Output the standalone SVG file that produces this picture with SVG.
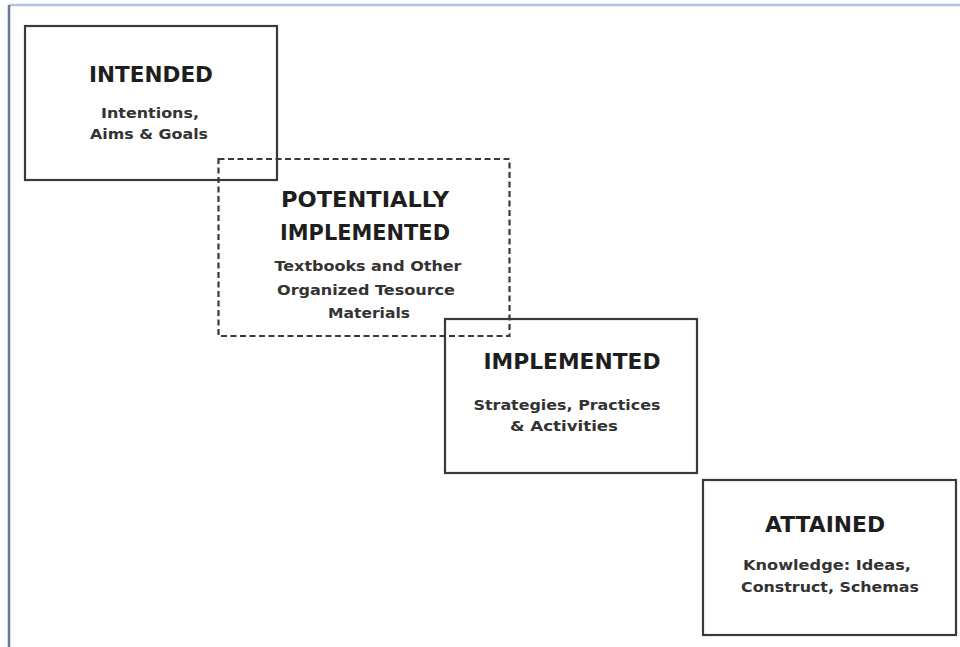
<svg xmlns="http://www.w3.org/2000/svg" width="960" height="647" viewBox="0 0 960 647">
<style>
.box{fill:none;stroke:#3a3a3a;stroke-width:2.2}
.dash{fill:none;stroke:#3a3a3a;stroke-width:2.2;stroke-dasharray:6 3.5}
.title{font-family:"DejaVu Sans",sans-serif;font-weight:bold;font-size:21.5px;fill:#1e1e1e;text-anchor:middle}
.sub{font-family:"DejaVu Sans",sans-serif;font-weight:bold;font-size:14.5px;fill:#333;text-anchor:middle}
</style>
<rect x="0" y="0" width="960" height="647" fill="#fff"/>
<line x1="9" y1="5" x2="960" y2="5" stroke="#b4c2da" stroke-width="2.5"/>
<line x1="9" y1="5" x2="9" y2="647" stroke="#6a7898" stroke-width="2.5"/>
<g id="intended">
<rect class="box" x="25" y="26" width="252" height="154"/>
<text class="title" x="151" y="82" textLength="124" lengthAdjust="spacingAndGlyphs">INTENDED</text>
<text class="sub" x="150" y="118" textLength="98" lengthAdjust="spacingAndGlyphs">Intentions,</text>
<text class="sub" x="149" y="139" textLength="118" lengthAdjust="spacingAndGlyphs">Aims &amp; Goals</text>
</g>
<g id="potentially">
<rect class="dash" x="218.5" y="159" width="291" height="177"/>
<text class="title" x="365" y="207" textLength="168" lengthAdjust="spacingAndGlyphs">POTENTIALLY</text>
<text class="title" x="365" y="240" textLength="170" lengthAdjust="spacingAndGlyphs">IMPLEMENTED</text>
<text class="sub" x="368" y="271" textLength="187" lengthAdjust="spacingAndGlyphs">Textbooks and Other</text>
<text class="sub" x="366" y="295" textLength="178" lengthAdjust="spacingAndGlyphs">Organized Tesource</text>
<text class="sub" x="369" y="318" textLength="82" lengthAdjust="spacingAndGlyphs">Materials</text>
</g>
<g id="implemented">
<rect class="box" x="445" y="319" width="252" height="154"/>
<text class="title" x="572" y="369" textLength="177" lengthAdjust="spacingAndGlyphs">IMPLEMENTED</text>
<text class="sub" x="567" y="410" textLength="187" lengthAdjust="spacingAndGlyphs">Strategies, Practices</text>
<text class="sub" x="564" y="431" textLength="108" lengthAdjust="spacingAndGlyphs">&amp; Activities</text>
</g>
<g id="attained">
<rect class="box" x="703" y="480" width="253" height="155"/>
<text class="title" x="825" y="532" textLength="120" lengthAdjust="spacingAndGlyphs">ATTAINED</text>
<text class="sub" x="827" y="570" textLength="168" lengthAdjust="spacingAndGlyphs">Knowledge: Ideas,</text>
<text class="sub" x="830" y="592" textLength="178" lengthAdjust="spacingAndGlyphs">Construct, Schemas</text>
</g>
<g id="connectors"></g>
</svg>
